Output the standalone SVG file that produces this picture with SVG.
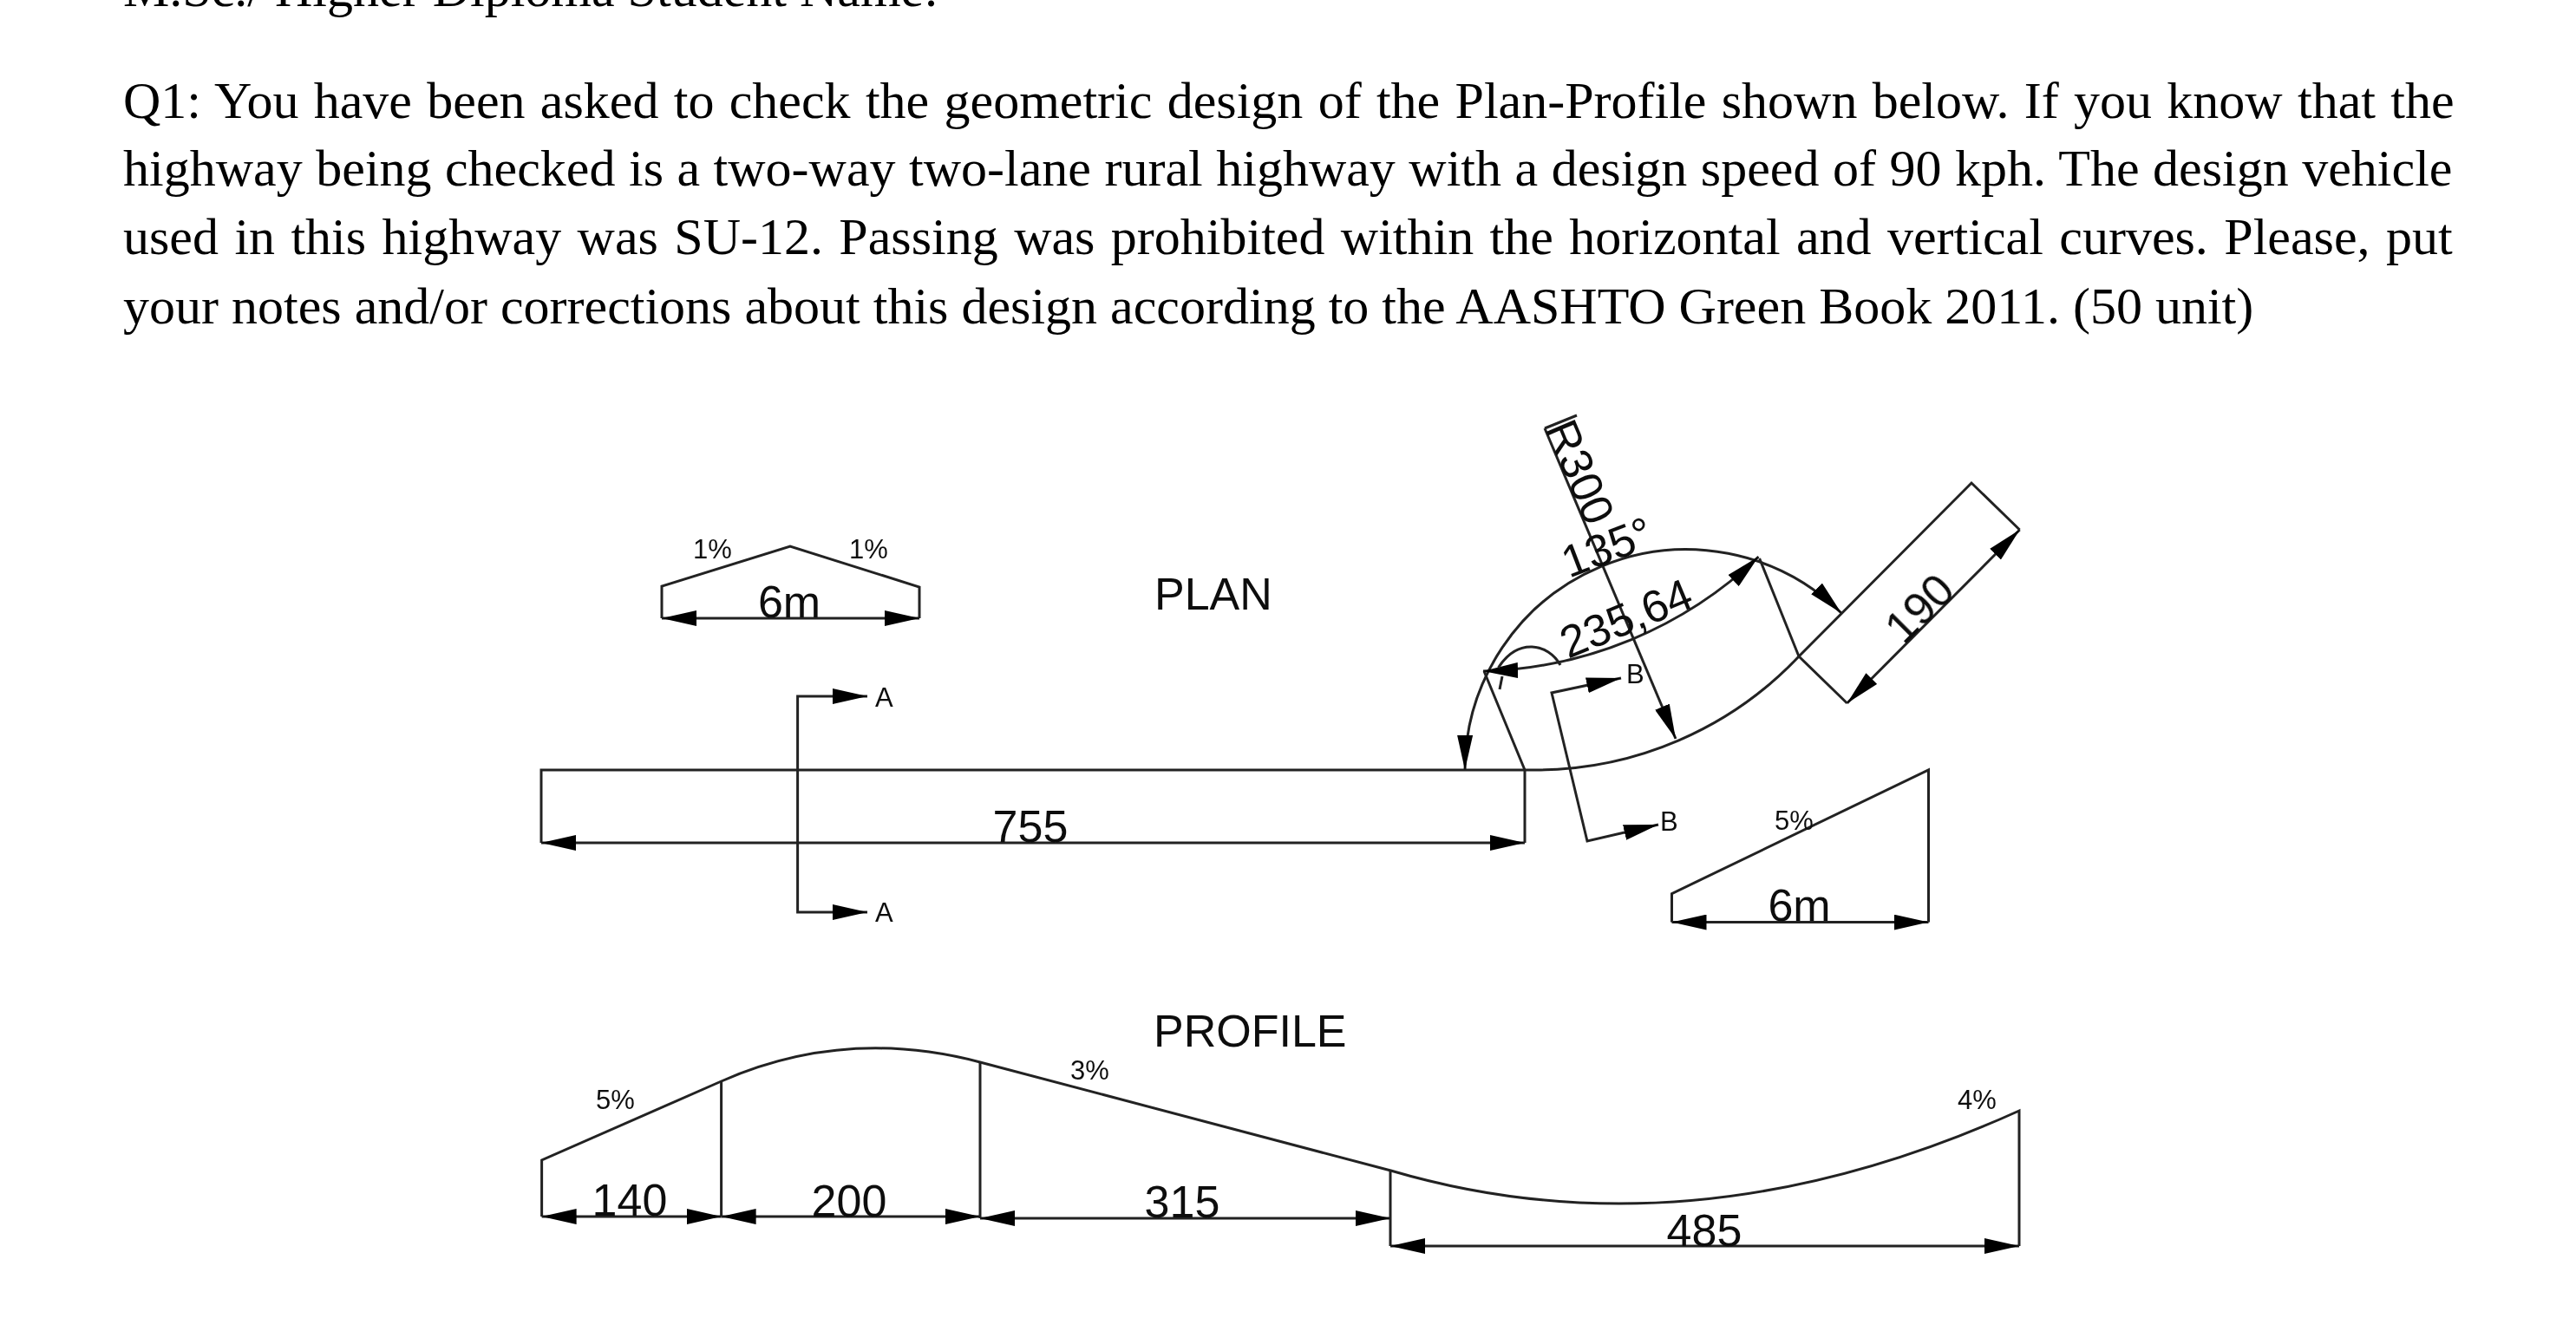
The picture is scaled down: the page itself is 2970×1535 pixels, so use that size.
<svg xmlns="http://www.w3.org/2000/svg" width="2970" height="1535" viewBox="0 0 2970 1535">
<style>
.b{font-family:"Liberation Serif","Times New Roman",serif;font-size:60px;fill:#000}
.t{font-family:"Liberation Sans",Arial,sans-serif;font-size:52px;fill:#111}
.s{font-family:"Liberation Sans",Arial,sans-serif;font-size:31px;fill:#111}
.l{fill:none;stroke:#222;stroke-width:3}
.a{marker-end:url(#h)}
.d{marker-start:url(#h);marker-end:url(#h)}
.soft{filter:url(#soft)}
</style>
<defs>
<marker id="h" markerUnits="userSpaceOnUse" markerWidth="42" markerHeight="18" viewBox="0 0 42 18" refX="40" refY="9" orient="auto-start-reverse"><path d="M0 0L40 9L0 18Z" fill="#000"/></marker>
<filter id="soft" x="0" y="0" width="2970" height="1535" filterUnits="userSpaceOnUse"><feGaussianBlur stdDeviation="0.7"/></filter>
</defs>
<rect width="2970" height="1535" fill="#fff"/>
<g id="question" class="soft">
<text class="b" x="142" y="7">M.Sc./ Higher Diploma Student Name:</text>
<text class="b" x="142" y="136" word-spacing="2.3">Q1: You have been asked to check the geometric design of the Plan-Profile shown below. If you know that the</text>
<text class="b" x="142" y="214" word-spacing="0.5">highway being checked is a two-way two-lane rural highway with a design speed of 90 kph. The design vehicle</text>
<text class="b" x="142" y="293" word-spacing="3.4">used in this highway was SU-12. Passing was prohibited within the horizontal and vertical curves. Please, put</text>
<text class="b" x="142" y="373">your notes and/or corrections about this design according to the AASHTO Green Book 2011. (50 unit)</text>
</g>
<g id="connectors" class="soft">
<path class="l" d="M763 713V676L911 630L1060 677V713"/>
<path class="l d" d="M763 713H1060"/>
<path class="l" d="M624 972V888H1770A418 418 0 0 0 2074 757L2273 557L2328.6 611"/>
<path class="l d" d="M624 972H1758"/>
<path class="l" d="M1711 774L1758 888V972"/>
<path class="l d" d="M1000 803H919.6V1052H1000"/>
<path class="l d" d="M1689 888A255 255 0 0 1 2123 707"/>
<path class="l d" d="M1710 774A478 478 0 0 0 2027.5 642"/>
<path class="l" d="M1818 479L1781 494"/>
<path class="l a" d="M1781 494L1932 852"/>
<path class="l" d="M2028.6 644L2074 757L2129.6 811"/>
<path class="l d" d="M2129.6 811L2328.6 611"/>
<path class="l" d="M1799 767C1785 742 1750 735 1727.5 770"/>
<path class="l" d="M1732 780L1729 795"/>
<path class="l d" d="M1912 951L1830 970L1789 799L1869 782"/>
<path class="l" d="M1927.5 1063.6V1030.6L2223.5 888V1063.6"/>
<path class="l d" d="M1927.5 1063.6H2223.5"/>
<path class="l" d="M624.6 1403V1338L831.6 1247Q974.7 1184 1130 1225L1603.5 1350Q1950 1452 2328 1281V1437"/>
<path class="l" d="M831.6 1247V1403M1130 1225V1405M1603 1350V1437"/>
<path class="l d" d="M624.6 1403H831.6"/>
<path class="l d" d="M831.6 1403H1130"/>
<path class="l d" d="M1130 1405H1603"/>
<path class="l d" d="M1603 1437H2328"/>
</g>
<g id="plan-labels" class="soft">
<text class="t" x="1331" y="703">PLAN</text>
<text class="s" x="799" y="644">1%</text>
<text class="s" x="979" y="644">1%</text>
<text class="t" x="910" y="712" text-anchor="middle">6m</text>
<text class="s" x="1009" y="815">A</text>
<text class="s" x="1009" y="1063">A</text>
<text class="t" x="1188" y="971" text-anchor="middle">755</text>
<text class="t" transform="translate(1781 494) rotate(67)">R300</text>
<text class="t" transform="translate(1809 667) rotate(-21)">135°</text>
<text class="t" transform="translate(1808 760) rotate(-22.5)">235,64</text>
<text class="t" transform="translate(2195 745) rotate(-45)">190</text>
<text class="s" x="1875" y="788">B</text>
<text class="s" x="1914" y="958">B</text>
<text class="s" x="2046" y="957">5%</text>
<text class="t" x="2074.5" y="1062" text-anchor="middle">6m</text>
</g>
<g id="profile-labels" class="soft">
<text class="t" x="1330" y="1207">PROFILE</text>
<text class="s" x="687" y="1279">5%</text>
<text class="s" x="1234" y="1245">3%</text>
<text class="s" x="2257" y="1279">4%</text>
<text class="t" x="726" y="1402" text-anchor="middle">140</text>
<text class="t" x="979" y="1403" text-anchor="middle">200</text>
<text class="t" x="1363" y="1404" text-anchor="middle">315</text>
<text class="t" x="1965" y="1437" text-anchor="middle">485</text>
</g>
</svg>
